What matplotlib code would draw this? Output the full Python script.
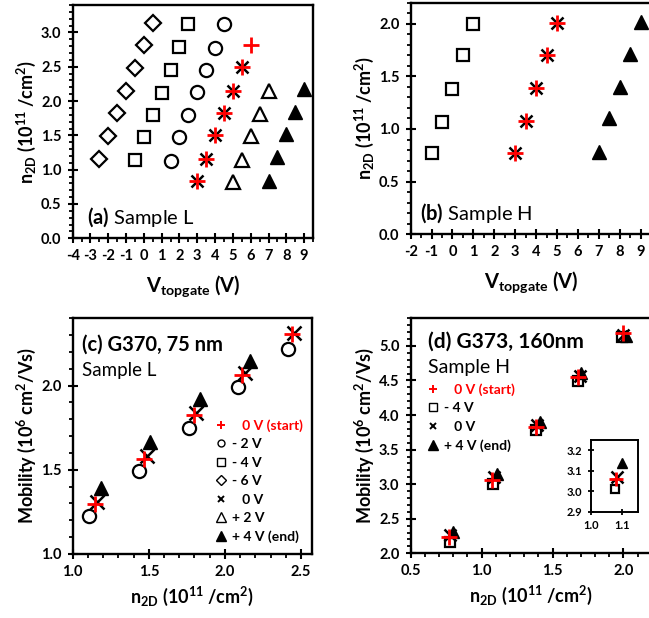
import matplotlib.pyplot as plt
from matplotlib import font_manager
from matplotlib.ticker import MultipleLocator
from matplotlib.lines import Line2D


def has_bold(name):
    for f in font_manager.fontManager.ttflist:
        if f.name == name and f.weight in (600, 700, 800, 'bold', 'semibold'):
            return True
    return False


family = 'DejaVu Sans'
for cand in ['Lato', 'Roboto', 'Open Sans', 'Noto Sans', 'Liberation Sans']:
    if has_bold(cand):
        family = cand
        break

plt.rcParams['font.family'] = [family, 'DejaVu Sans']
plt.rcParams['font.weight'] = 'bold'
plt.rcParams['axes.labelweight'] = 'bold'
plt.rcParams['mathtext.fontset'] = 'custom'
plt.rcParams['mathtext.rm'] = family
plt.rcParams['mathtext.bf'] = family + ':bold'
plt.rcParams['mathtext.it'] = family + ':italic'
plt.rcParams['axes.unicode_minus'] = False

# (a) Sample L : n2D vs topgate voltage
a_vg_m6 = [-2.5, -2, -1.5, -1, -0.5, 0, 0.5]
a_n_m6 = [1.16, 1.49, 1.82, 2.15, 2.48, 2.81, 3.14]
a_vg_m4 = [-0.5, 0, 0.5, 1, 1.5, 2, 2.5]
a_n_m4 = [1.14, 1.47, 1.80, 2.12, 2.46, 2.79, 3.12]
a_vg_m2 = [1.5, 2, 2.5, 3, 3.5, 4, 4.5]
a_n_m2 = [1.13, 1.47, 1.80, 2.13, 2.46, 2.78, 3.12]
a_vg_start = [3, 3.5, 4, 4.5, 5, 5.5, 6]
a_n_start = [0.84, 1.16, 1.50, 1.82, 2.15, 2.49, 2.81]
a_vg_0 = [3, 3.5, 4, 4.5, 5, 5.5]
a_n_0 = [0.84, 1.16, 1.50, 1.82, 2.15, 2.49]
a_vg_p2 = [5, 5.5, 6, 6.5, 7]
a_n_p2 = [0.815, 1.146, 1.485, 1.806, 2.146]
a_vg_p4 = [7, 7.5, 8, 8.5, 9]
a_n_p4 = [0.84, 1.18, 1.52, 1.845, 2.18]

# (b) Sample H
b_vg_m4 = [-1, -0.5, 0, 0.5, 1]
b_n_m4 = [0.77, 1.07, 1.38, 1.70, 2.00]
b_vg_start = [3, 3.5, 4, 4.5, 5]
b_n_start = [0.77, 1.08, 1.39, 1.70, 2.01]
b_vg_p4 = [7, 7.5, 8, 8.5, 9]
b_n_p4 = [0.78, 1.10, 1.40, 1.71, 2.02]

# (c) G370, mobility vs n2D
c_n_m2 = [1.109, 1.437, 1.764, 2.087, 2.413]
c_mu_m2 = [1.226, 1.494, 1.746, 1.992, 2.218]
c_n_start = [1.146, 1.469, 1.797, 2.111, 2.439]
c_mu_start = [1.298, 1.565, 1.827, 2.065, 2.304]
c_n_0 = [1.16, 1.485, 1.81, 2.135, 2.456]
c_mu_0 = [1.306, 1.58, 1.837, 2.075, 2.31]
c_n_p4 = [1.186, 1.511, 1.834, 2.166]
c_mu_p4 = [1.391, 1.663, 1.92, 2.145]

# (d) G373, mobility vs n2D
d_n_start = [0.772, 1.07, 1.383, 1.68, 1.998]
d_mu_start = [2.23, 3.06, 3.82, 4.555, 5.18]
d_n_m4 = [0.777, 1.077, 1.383, 1.68, 1.993]
d_mu_m4 = [2.16, 3.0, 3.78, 4.49, 5.13]
d_n_0 = [0.78, 1.087, 1.39, 1.69, 2.0]
d_mu_0 = [2.27, 3.11, 3.85, 4.57, 5.16]
d_n_p4 = [0.80, 1.11, 1.41, 1.70, 2.016]
d_mu_p4 = [2.31, 3.15, 3.90, 4.61, 5.15]

# inset of (d)
i_n = [1.075, 1.08, 1.084, 1.10]
i_mu = [3.01, 3.06, 3.07, 3.136]

n2d_label = 'n$_{\\mathbf{2D}}$ (10$^{\\mathbf{11}}$ /cm$^{\\mathbf{2}}$)'
vg_label = 'V$_{\\mathbf{topgate}}$ (V)'
mu_label = 'Mobility (10$^{\\mathbf{6}}$ cm$^{\\mathbf{2}}$/Vs)'


def open_marker(ax, x, y, m, ms):
    ax.plot(x, y, ls='none', marker=m, ms=ms, mfc='none', mec='black', mew=1.6)


def star(ax, xs, ys, x0, y0, ms):
    # black x with the red + on top
    ax.plot(x0, y0, ls='none', marker='x', ms=ms * 0.8, mec='black', mew=1.8)
    ax.plot(xs, ys, ls='none', marker='+', ms=ms, mec='red', mew=2.0)


def filled_tri(ax, x, y, ms):
    ax.plot(x, y, ls='none', marker='^', ms=ms, mfc='black', mec='black')


def bold_ticks(ax):
    for lbl in ax.get_xticklabels() + ax.get_yticklabels():
        lbl.set_fontweight('bold')


def style_axes(ax, xmaj, xmin, ymaj, ymin, size):
    ax.xaxis.set_major_locator(MultipleLocator(xmaj))
    ax.xaxis.set_minor_locator(MultipleLocator(xmin))
    ax.yaxis.set_major_locator(MultipleLocator(ymaj))
    ax.yaxis.set_minor_locator(MultipleLocator(ymin))
    ax.tick_params(which='major', direction='inout', length=7, width=1.5,
                   labelsize=size, pad=4.5)
    ax.tick_params(which='minor', direction='out', length=3, width=1.3)
    for s in ax.spines.values():
        s.set_linewidth(1.7)


fig = plt.figure(figsize=(6.49, 6.18), dpi=100)

# ---- (a)
ax = fig.add_axes([0.112, 0.6144, 0.3703, 0.3775])
open_marker(ax, a_vg_m6, a_n_m6, 'D', 8)
open_marker(ax, a_vg_m4, a_n_m4, 's', 8.5)
open_marker(ax, a_vg_m2, a_n_m2, 'o', 9.5)
star(ax, a_vg_start, a_n_start, a_vg_0, a_n_0, 11)
open_marker(ax, a_vg_p2, a_n_p2, '^', 10.5)
filled_tri(ax, a_vg_p4, a_n_p4, 10.5)
ax.set_xlim(-4, 9.5)
ax.set_ylim(0, 3.4)
style_axes(ax, 1, 0.5, 0.5, 0.1, 10.5)
ax.set_xticks(range(-4, 10))
ax.yaxis.set_major_formatter('{x:.1f}')
bold_ticks(ax)
ax.set_xlabel(vg_label, fontsize=14.5, labelpad=7)
ax.set_ylabel(n2d_label, fontsize=13, labelpad=2)
ax.text(0.06, 0.09, '$\\mathbf{(a)}$ Sample L', transform=ax.transAxes,
        fontsize=14.5, fontweight='normal', va='center')

# ---- (b)
ax = fig.add_axes([0.6328, 0.6209, 0.3704, 0.3748])
open_marker(ax, b_vg_m4, b_n_m4, 's', 8)
star(ax, b_vg_start, b_n_start, b_vg_start, b_n_start, 11)
filled_tri(ax, b_vg_p4, b_n_p4, 10)
ax.set_xlim(-2, 9.5)
ax.set_ylim(0, 2.2)
style_axes(ax, 1, 0.5, 0.5, 0.1, 10.5)
ax.set_xticks(range(-2, 10))
ax.yaxis.set_major_formatter('{x:.1f}')
bold_ticks(ax)
ax.set_xlabel(vg_label, fontsize=14.5, labelpad=7)
ax.set_ylabel(n2d_label, fontsize=13, labelpad=2)
ax.text(0.04, 0.09, '$\\mathbf{(b)}$ Sample H', transform=ax.transAxes,
        fontsize=14.5, fontweight='normal', va='center')

# ---- (c)
ax = fig.add_axes([0.112, 0.1036, 0.3683, 0.3814])
open_marker(ax, c_n_m2, c_mu_m2, 'o', 9.5)
star(ax, c_n_start, c_mu_start, c_n_0, c_mu_0, 12)
filled_tri(ax, c_n_p4, c_mu_p4, 10.5)
ax.set_xlim(1.0, 2.57)
ax.set_ylim(1.0, 2.4)
style_axes(ax, 0.5, 0.1, 0.5, 0.1, 10.5)
ax.xaxis.set_major_formatter('{x:.1f}')
ax.yaxis.set_major_formatter('{x:.1f}')
bold_ticks(ax)
ax.set_xlabel(n2d_label, fontsize=13, labelpad=4)
ax.set_ylabel(mu_label, fontsize=13, labelpad=2)
ax.text(0.04, 0.89, '(c) G370, 75 nm', transform=ax.transAxes, fontsize=14.5, va='center')
ax.text(0.04, 0.78, 'Sample L', transform=ax.transAxes, fontsize=13.5,
        fontweight='normal', va='center')
handles = [
    Line2D([], [], ls='none', marker='+', ms=6, mec='red', mew=1.4),
    Line2D([], [], ls='none', marker='o', ms=5, mfc='none', mec='black', mew=1.0),
    Line2D([], [], ls='none', marker='s', ms=5.5, mfc='none', mec='black', mew=1.0),
    Line2D([], [], ls='none', marker='D', ms=5, mfc='none', mec='black', mew=1.0),
    Line2D([], [], ls='none', marker='x', ms=4.5, mec='black', mew=1.4),
    Line2D([], [], ls='none', marker='^', ms=6.5, mfc='none', mec='black', mew=1.0),
    Line2D([], [], ls='none', marker='^', ms=6.5, mfc='black', mec='black'),
]
labels = ['   0 V (start)', '- 2 V', '- 4 V', '- 6 V', '   0 V', '+ 2 V', '+ 4 V (end)']
leg = ax.legend(handles, labels, loc='upper left', bbox_to_anchor=(0.59, 0.573),
                frameon=False, fontsize=10, handlelength=1.0, handletextpad=0.3,
                labelspacing=0.47, borderpad=0, borderaxespad=0)
leg.get_texts()[0].set_color('red')

# ---- (d)
ax = fig.add_axes([0.6328, 0.1047, 0.3716, 0.3803])
open_marker(ax, d_n_m4, d_mu_m4, 's', 7.5)
filled_tri(ax, d_n_p4, d_mu_p4, 8)
star(ax, d_n_start, d_mu_start, d_n_0, d_mu_0, 11)
ax.set_xlim(0.5, 2.2)
ax.set_ylim(2.0, 5.4)
style_axes(ax, 0.5, 0.1, 0.5, 0.1, 10.5)
ax.xaxis.set_major_formatter('{x:.1f}')
ax.yaxis.set_major_formatter('{x:.1f}')
bold_ticks(ax)
ax.set_xlabel(n2d_label, fontsize=13, labelpad=4)
ax.set_ylabel(mu_label, fontsize=13, labelpad=2)
ax.text(0.07, 0.90, '(d) G373, 160nm', transform=ax.transAxes, fontsize=15, va='center')
ax.text(0.07, 0.79, 'Sample H', transform=ax.transAxes, fontsize=14,
        fontweight='normal', va='center')
handles = [
    Line2D([], [], ls='none', marker='+', ms=6, mec='red', mew=1.4),
    Line2D([], [], ls='none', marker='s', ms=5.5, mfc='none', mec='black', mew=1.0),
    Line2D([], [], ls='none', marker='x', ms=4.5, mec='black', mew=1.4),
    Line2D([], [], ls='none', marker='^', ms=6.5, mfc='black', mec='black'),
]
labels = ['   0 V (start)', '- 4 V', '   0 V', '+ 4 V (end)']
leg = ax.legend(handles, labels, loc='upper left', bbox_to_anchor=(0.065, 0.725),
                frameon=False, fontsize=10, handlelength=1.0, handletextpad=0.3,
                labelspacing=0.47, borderpad=0, borderaxespad=0)
leg.get_texts()[0].set_color('red')

# inset
axi = fig.add_axes([0.9102, 0.172, 0.0733, 0.116])
open_marker(axi, i_n[:1], i_mu[:1], 's', 6)
star(axi, i_n[1:2], i_mu[1:2], i_n[2:3], i_mu[2:3], 10)
filled_tri(axi, i_n[3:], i_mu[3:], 6.5)
axi.set_xlim(1.0, 1.15)
axi.set_ylim(2.9, 3.25)
axi.xaxis.set_major_locator(MultipleLocator(0.1))
axi.yaxis.set_major_locator(MultipleLocator(0.1))
axi.xaxis.set_major_formatter('{x:.1f}')
axi.yaxis.set_major_formatter('{x:.1f}')
axi.tick_params(direction='inout', length=5, width=1.3, labelsize=8)
bold_ticks(axi)
for s in axi.spines.values():
    s.set_linewidth(1.4)

fig.savefig('out.png', dpi=100)
